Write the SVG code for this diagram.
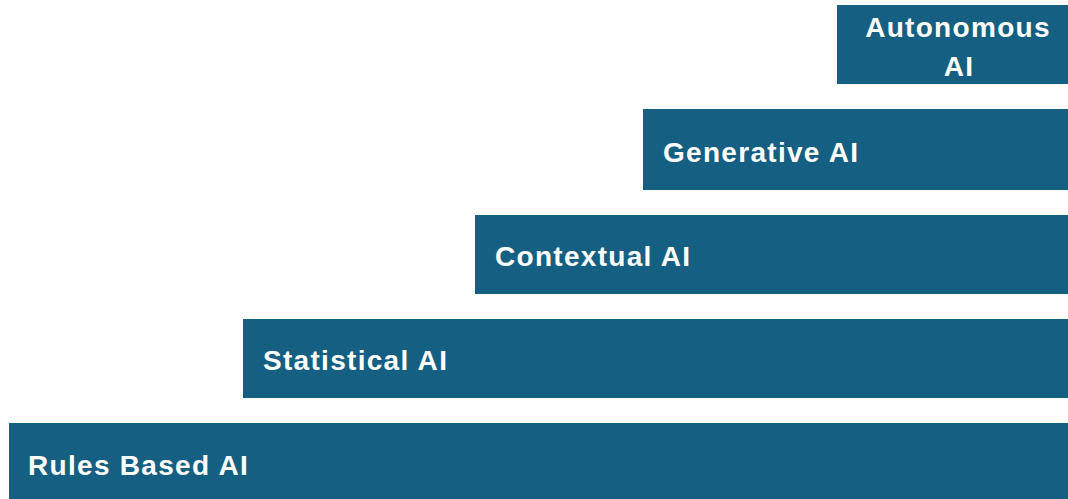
<svg xmlns="http://www.w3.org/2000/svg" width="1068" height="499" viewBox="0 0 1068 499">
  <style>
    .step { fill: #156082; }
    .label { fill: #ffffff; font-family: "Liberation Sans", Arial, sans-serif; font-weight: bold; font-size: 28px; letter-spacing: 1.3px; }
  </style>
  <rect width="1068" height="499" fill="#ffffff"/>
  <g id="rules-based-ai">
    <rect class="step" x="9" y="423" width="1059" height="76"/>
    <text class="label" x="28" y="475">Rules Based AI</text>
  </g>
  <g id="statistical-ai">
    <rect class="step" x="243" y="319" width="825" height="79"/>
    <text class="label" x="263" y="370">Statistical AI</text>
  </g>
  <g id="contextual-ai">
    <rect class="step" x="475" y="215" width="593" height="79"/>
    <text class="label" x="495" y="266">Contextual AI</text>
  </g>
  <g id="generative-ai">
    <rect class="step" x="643" y="109" width="425" height="81"/>
    <text class="label" x="663" y="162">Generative AI</text>
  </g>
  <g id="autonomous-ai">
    <rect class="step" x="837" y="5" width="231" height="79"/>
    <text class="label" x="958" y="37" text-anchor="middle">Autonomous</text>
    <text class="label" x="959" y="76" text-anchor="middle">AI</text>
  </g>
  <g id="connectors"/>
</svg>
